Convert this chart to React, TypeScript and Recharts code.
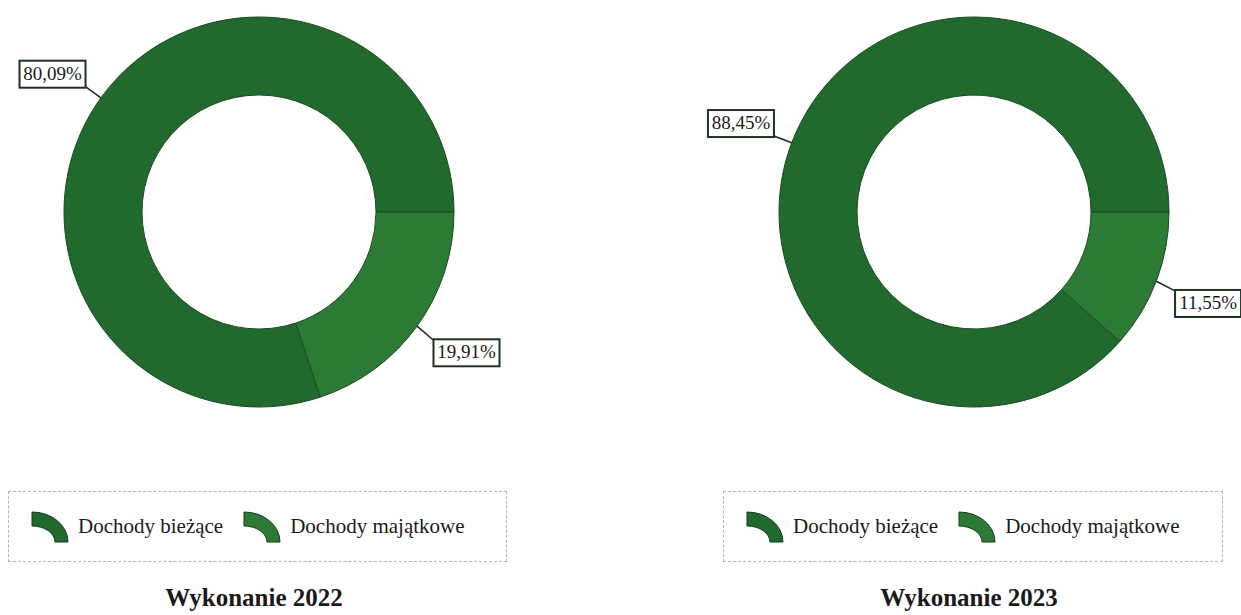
import React from "react"
import { PieChart, Pie, Cell } from "recharts"

const categories = ["Dochody bieżące", "Dochody majątkowe"]
const titles = ["Wykonanie 2022", "Wykonanie 2023"]
const shares2022 = [80.09, 19.91]
const shares2023 = [88.45, 11.55]

const sliceColors = ["#1f6a2c", "#2c7b34"]
const edgeColor = "#1d4a23"
const serif = "'Liberation Serif', 'Times New Roman', serif"

const toRows = (values: number[]) => categories.map((name, i) => ({ name, value: values[i] }))

const RAD = Math.PI / 180

// boxed percentage label with a short radial leader line
const renderLabel = (props: any) => {
  const { cx, cy, midAngle, outerRadius, value } = props
  const cos = Math.cos(-midAngle * RAD)
  const sin = Math.sin(-midAngle * RAD)
  const sx = cx + outerRadius * cos
  const sy = cy + outerRadius * sin
  const ex = cx + (outerRadius + 19) * cos
  const ey = cy + (outerRadius + 19) * sin
  const w = 66
  const h = 27
  const onRight = cos >= 0
  const bx = onRight ? ex + 1 : ex - w
  const by = onRight ? ey + 2 : ey - h + 1
  const text = value.toFixed(2).replace(".", ",") + "%"
  return (
    <g>
      <line x1={sx} y1={sy} x2={onRight ? bx : ex} y2={onRight ? by + 1 : ey} stroke="#1d2a1e" strokeWidth={1.5} />
      <rect x={bx} y={by} width={w} height={h} fill="#fff" stroke="#1b3320" strokeWidth={2} />
      <text
        x={bx + w / 2}
        y={by + h / 2 + 1}
        textAnchor="middle"
        dominantBaseline="middle"
        fontFamily={serif}
        fontSize={19}
        fill="#1a1a1a"
      >
        {text}
      </text>
    </g>
  )
}

const LegendIcon = ({ color }: { color: string }) => (
  <svg width={38} height={32} style={{ display: "block", flexShrink: 0 }}>
    <path
      d="M 1 1 A 36 30 0 0 1 37 31 L 24 31 A 23 16 0 0 0 1 15 Z"
      fill={color}
      stroke="#17391c"
      strokeWidth={1}
    />
  </svg>
)

const LegendBox = ({ left, width }: { left: number; width: number }) => (
  <div
    style={{
      position: "absolute",
      left,
      top: 491,
      width,
      height: 71,
      boxSizing: "border-box",
      border: "1px dashed #b5b5b5",
      display: "flex",
      alignItems: "center",
      paddingLeft: 22,
      fontFamily: serif,
      fontSize: 21,
      color: "#1a1a1a",
    }}
  >
    {categories.map((name, i) => (
      <div key={name} style={{ display: "flex", alignItems: "center", marginRight: 20 }}>
        <LegendIcon color={sliceColors[i]} />
        <span style={{ marginLeft: 9 }}>{name}</span>
      </div>
    ))}
  </div>
)

const Title = ({ center, text }: { center: number; text: string }) => (
  <div
    style={{
      position: "absolute",
      left: center - 150,
      width: 300,
      top: 585,
      textAlign: "center",
      fontFamily: serif,
      fontWeight: 700,
      fontSize: 25,
      lineHeight: "25px",
      color: "#1a1a1a",
    }}
  >
    {text}
  </div>
)

export default function App() {
  return (
    <div style={{ position: "absolute", left: 0, top: 0, width: 1241, height: 615, background: "#fff", overflow: "hidden" }}>
      <PieChart width={1241} height={480} style={{ position: "absolute", left: 0, top: 0 }}>
        <Pie
          data={toRows(shares2022)}
          dataKey="value"
          nameKey="name"
          cx={254}
          cy={207}
          innerRadius={117}
          outerRadius={195}
          startAngle={0}
          endAngle={360}
          stroke={edgeColor}
          strokeWidth={1}
          label={renderLabel}
          labelLine={false}
          isAnimationActive={false}
        >
          {sliceColors.map((c) => (
            <Cell key={c} fill={c} />
          ))}
        </Pie>
        <Pie
          data={toRows(shares2023)}
          dataKey="value"
          nameKey="name"
          cx={969}
          cy={207}
          innerRadius={117}
          outerRadius={195}
          startAngle={0}
          endAngle={360}
          stroke={edgeColor}
          strokeWidth={1}
          label={renderLabel}
          labelLine={false}
          isAnimationActive={false}
        >
          {sliceColors.map((c) => (
            <Cell key={c} fill={c} />
          ))}
        </Pie>
      </PieChart>
      <LegendBox left={8} width={499} />
      <LegendBox left={723} width={500} />
      <Title center={254} text={titles[0]} />
      <Title center={969} text={titles[1]} />
    </div>
  )
}
